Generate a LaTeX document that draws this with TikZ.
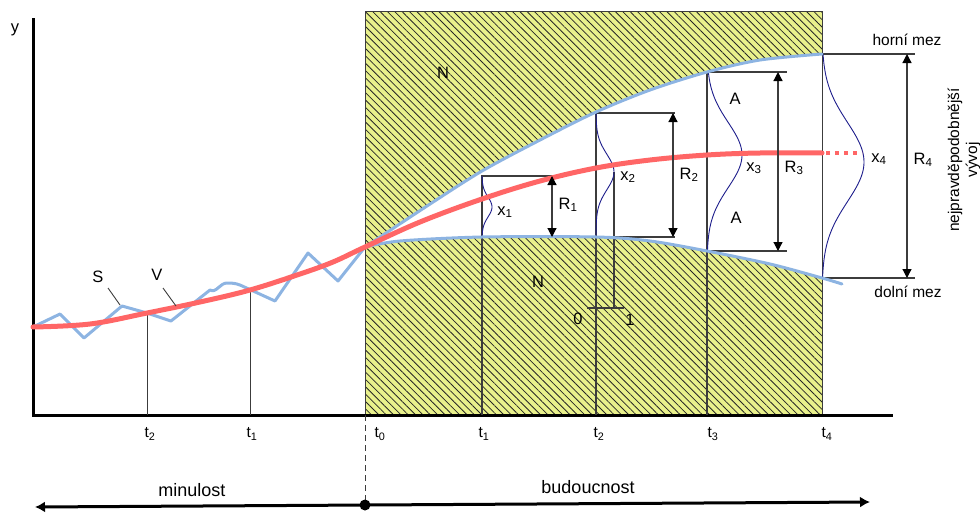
\documentclass[tikz,border=0pt]{standalone}
\usepackage{fontspec}
\setmainfont{Liberation Sans}
\usetikzlibrary{arrows.meta,patterns.meta}
\definecolor{hatchyellow}{RGB}{233,241,140}
\definecolor{trendred}{RGB}{255,102,102}
\definecolor{limitblue}{RGB}{141,180,226}
\definecolor{gaussnavy}{RGB}{30,30,140}
\definecolor{linegray}{RGB}{60,60,60}
\begin{document}
\begin{tikzpicture}[x=1pt,y=-1pt,
  font=\fontsize{16.5}{19}\selectfont,
  boxline/.style={draw=linegray,line width=1.1pt},
  thinline/.style={draw=linegray,line width=0.9pt},
  axisline/.style={draw=black,line width=3pt},
  gausscurve/.style={draw=gaussnavy,line width=0.9pt},
  bluecurve/.style={draw=limitblue,line width=3pt,line join=round,line cap=round},
  redcurve/.style={draw=trendred,line width=5pt,line cap=round},
  rangearrow/.style={draw=linegray,line width=1.2pt,{Triangle[length=9pt,width=9pt,color=black]}-{Triangle[length=9pt,width=9pt,color=black]}},
  lbl/.style={inner sep=1pt},
  small/.style={font=\fontsize{15.5}{18}\selectfont},
  tlbl/.style={inner sep=1pt,font=\fontsize{15.5}{18}\selectfont},
  big/.style={font=\fontsize{18}{21}\selectfont}]
\useasboundingbox (0,0) rectangle (980,514);

% ---------------- hatched future area
\coordinate (RTL) at (365,11);
\coordinate (RBR) at (822,415);
\fill[hatchyellow] (RTL) rectangle (RBR);
\fill[pattern={Lines[angle=-45,distance=5.2pt,line width=0.8pt]},pattern color=black!85] (RTL) rectangle (RBR);
% white band between limits
\fill[white] plot[smooth] coordinates {(365,247) (427,206) (482,171) (540,140) (596,112) (650,90) (707,72) (760,60) (822,54)}
  -- (822,278)
  -- plot[smooth] coordinates {(822,278) (770,264) (707,251) (650,241) (596,237) (482,237) (400,241) (365,247)} -- cycle;
\draw[thinline] (365,415) -- (RTL) -| (RBR);

% ---------------- axes
\coordinate (Ytop) at (33,18);
\coordinate (O) at (33,415);
\coordinate (Xend) at (893,415);
\draw[axisline] (Ytop) -- (O) -- (Xend);
\node[lbl] (ylab) at (15,30) {y};

% ---------------- past vertical lines
\draw[thinline] (147,313) -- (147,415);
\draw[thinline] (250,290) -- (250,415);

% ---------------- boxes
\coordinate (b1tl) at (482,176);
\coordinate (b2tl) at (596,113);
\coordinate (b3tl) at (707,72);
\coordinate (b4tl) at (822,54);
\draw[boxline] (482,415) -- (b1tl) -- (560,176);
\draw[boxline] (482,237) -- (675,237);
\draw[boxline] (596,415) -- (b2tl) -- (675,113);
\draw[boxline] (707,415) -- (b3tl) -- (787,72);
\draw[boxline] (707,251) -- (787,251);
\draw[boxline] (b4tl) -- (915,54);
\draw[boxline] (822,278) -- (915,278);
% scale 0 - 1
\draw[boxline] (614,172) -- (614,308);
\draw[boxline] (587,308) -- (624,308);

% ---------------- gaussians
\draw[gausscurve] plot[domain=176:237,samples=50,smooth] ({482+10*exp(-((\x-207)/14)*((\x-207)/14))},\x);
\draw[gausscurve] plot[domain=113:237,samples=60,smooth] ({596+18*exp(-((\x-172)/25)*((\x-172)/25))},\x);
\draw[gausscurve] plot[domain=72:251,samples=80,smooth] ({707+35*exp(-((\x-155)/46)*((\x-155)/46))},\x);
\draw[gausscurve] plot[domain=54:278,samples=80,smooth] ({822+42*exp(-((\x-162)/56)*((\x-162)/56))},\x);

% ---------------- limit curves
\draw[bluecurve] plot[smooth] coordinates {(365,247) (427,206) (482,171) (540,140) (596,112) (650,90) (707,72) (760,60) (822,54)};
\draw[bluecurve] plot[smooth] coordinates {(365,247) (400,241) (482,237) (596,237) (650,241) (707,251) (770,264) (822,278) (842,284)};
% past observed series
\draw[bluecurve] (33,327) -- (60,314) -- (84,338) -- (122,306) -- (147,313) -- (171,321) -- (210,290) to[out=-30,in=180] (227,283) to[out=0,in=160] (240,285) -- (275,301) -- (308,253) -- (338,281) -- (365,247);

% ---------------- trend curve
\draw[redcurve] plot[smooth,tension=0.6] coordinates {(33,327) (90,324) (147,313) (200,302) (250,290) (300,274) (333,262) (365,247) (420,222) (482,199) (540,181) (596,168) (650,160) (707,155) (760,153) (822,153)};
\draw[draw=trendred,line width=4pt,dash pattern=on 4pt off 5pt] (826,153) -- (862,153);

% ---------------- range arrows
\draw[rangearrow] (552,176) -- (552,237);
\draw[rangearrow] (673,113) -- (673,237);
\draw[rangearrow] (778,72) -- (778,251);
\draw[rangearrow] (907,54) -- (907,278);

% ---------------- S / V leaders
\node[lbl] (S) at (98,277) {S};
\node[lbl] (V) at (157,275) {V};
\draw[thinline] (108,288) -- (120,305);
\draw[thinline] (163,288) -- (176,306);

% ---------------- labels
\node[lbl] (N1) at (443,73) {N};
\node[lbl] (N2) at (538,282) {N};
\node[lbl] (A1) at (735,99) {A};
\node[lbl] (A2) at (736,218) {A};
\node[lbl] (x1) at (505,212) {x\textsubscript{1}};
\node[lbl] (x2) at (628,177) {x\textsubscript{2}};
\node[lbl] (x3) at (754,168) {x\textsubscript{3}};
\node[lbl] (x4) at (879,159) {x\textsubscript{4}};
\node[lbl] (R1) at (568,205) {R\textsubscript{1}};
\node[lbl] (R2) at (689,175) {R\textsubscript{2}};
\node[lbl] (R3) at (794,168) {R\textsubscript{3}};
\node[lbl] (R4) at (923,160) {R\textsubscript{4}};
\node[lbl] (zero) at (578,319) {0};
\node[lbl] (one) at (630,320) {1};
\node[lbl,small] (horni) at (907,40) {horní mez};
\node[lbl,small] (dolni) at (908,292) {dolní mez};
\node[lbl,small,rotate=90,align=center] (nejp) at (964,160) {nejpravděpodobnější\\vývoj};

% ---------------- time labels
\node[tlbl] (tm2) at (150,434) {t\textsubscript{2}};
\node[tlbl] (tm1) at (252,434) {t\textsubscript{1}};
\node[tlbl] (tt0) at (380,434) {t\textsubscript{0}};
\node[tlbl] (tt1) at (484,434) {t\textsubscript{1}};
\node[tlbl] (tt2) at (599,434) {t\textsubscript{2}};
\node[tlbl] (tt3) at (713,434) {t\textsubscript{3}};
\node[tlbl] (tt4) at (827,434) {t\textsubscript{4}};

% ---------------- past / future arrow
\coordinate (Lend) at (35,507);
\coordinate (Rend) at (870,502);
\coordinate (Now) at (365,505);
\draw[thinline,dash pattern=on 6pt off 4pt] (365,415) -- (Now);
\draw[draw=black,line width=3pt,{Latex[length=10pt,width=11pt]}-{Latex[length=10pt,width=11pt]}] (Lend) -- (Rend);
\fill[black] (Now) circle (5.5pt);
\node[lbl,big] (minulost) at (192,490) {minulost};
\node[lbl,big] (budoucnost) at (588,487) {budoucnost};
\end{tikzpicture}
\end{document}
